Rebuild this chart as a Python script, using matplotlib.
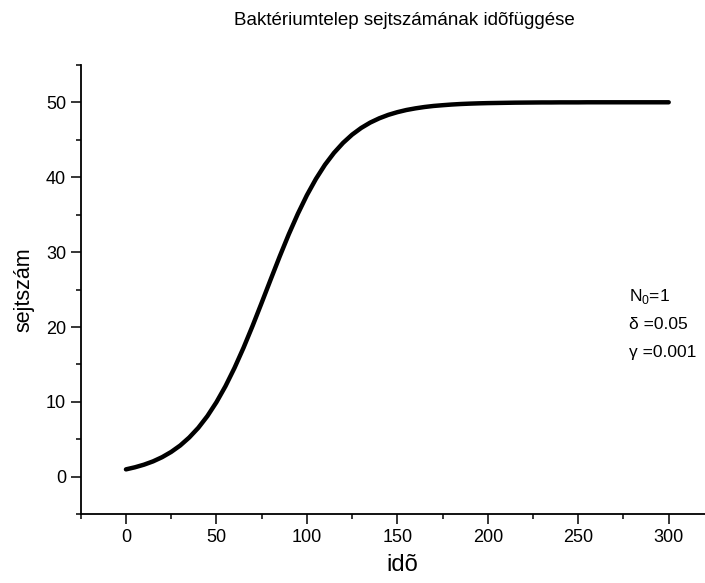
import matplotlib
matplotlib.use("Agg")
import matplotlib.pyplot as plt
from matplotlib.ticker import MultipleLocator

plt.rcParams['font.family'] = ['Liberation Sans', 'DejaVu Sans']
plt.rcParams['mathtext.fontset'] = 'custom'
plt.rcParams['mathtext.rm'] = 'Liberation Sans'

# ido (time) and sejtszam (cell count), every 5 time units
ido = list(range(0, 301, 5))
sejtszam = [1.00, 1.28, 1.63, 2.07, 2.63, 3.33, 4.19, 5.26, 6.55, 8.11,
            9.96, 12.10, 14.54, 17.24, 20.16, 23.23, 26.35, 29.43, 32.38, 35.11,
            37.59, 39.77, 41.66, 43.25, 44.58, 45.68, 46.57, 47.29, 47.86, 48.32,
            48.68, 48.97, 49.19, 49.37, 49.51, 49.61, 49.70, 49.77, 49.82, 49.86,
            49.89, 49.91, 49.93, 49.95, 49.96, 49.97, 49.98, 49.98, 49.99, 49.99,
            49.99, 50.00, 50.00, 50.00, 50.00, 50.00, 50.00, 50.00, 50.00, 50.00,
            50.00]

parameterek = ["N$_\\mathrm{0}$=1", "\u03b4 =0.05", "\u03b3 =0.001"]

fig = plt.figure(figsize=(7.05, 5.83), dpi=100)
ax = fig.add_axes([0.1145, 0.1178, 0.911, 0.771])

ax.plot(ido, sejtszam, color='black', linewidth=3.2, solid_capstyle='round')

ax.set_xlim(-25, 330)
ax.set_ylim(-5, 55)
ax.xaxis.set_major_locator(MultipleLocator(50))
ax.xaxis.set_minor_locator(MultipleLocator(25))
ax.yaxis.set_major_locator(MultipleLocator(10))
ax.yaxis.set_minor_locator(MultipleLocator(5))
ax.set_xticks([0, 50, 100, 150, 200, 250, 300])

for side in ['top', 'right']:
    ax.spines[side].set_visible(False)
for side in ['left', 'bottom']:
    ax.spines[side].set_linewidth(1.3)

ax.tick_params(which='major', direction='out', length=7, width=1.1, labelsize=13)
ax.tick_params(which='minor', direction='out', length=3.5, width=1.1)

ax.set_xlabel("idõ", fontsize=17, labelpad=6)
ax.set_ylabel("sejtszám", fontsize=15.5, labelpad=8)
fig.text(0.574, 0.965, "Baktériumtelep sejtszámának idõfüggése",
         ha='center', va='center', fontsize=13.5)

for i, s in enumerate(parameterek):
    ax.text(0.853, 0.484 - i * 0.062, s, transform=ax.transAxes,
            fontsize=12.5, ha='left', va='center')

fig.savefig("out.png", dpi=100)
